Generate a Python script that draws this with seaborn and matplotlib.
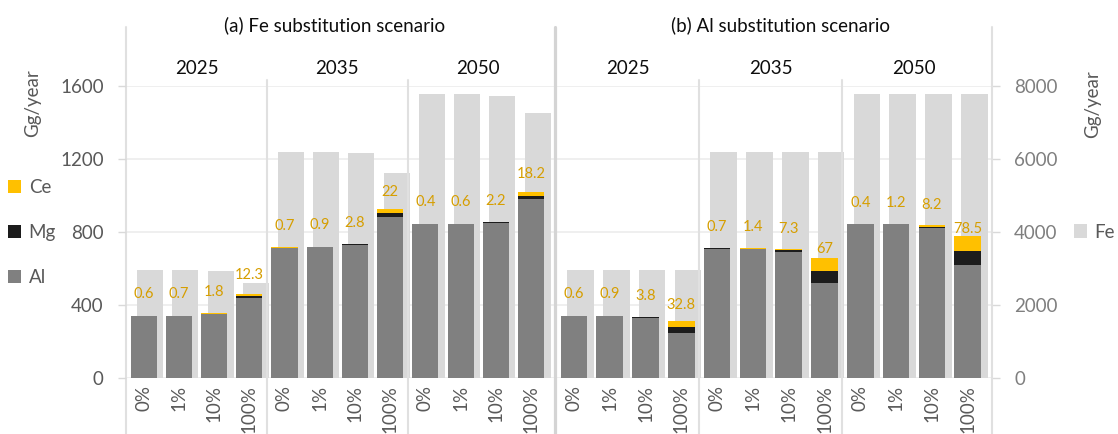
import numpy as np
import pandas as pd
import matplotlib
matplotlib.use("Agg")
import matplotlib.pyplot as plt
import matplotlib.transforms as mtransforms
from matplotlib.patches import Patch
import seaborn as sns

# ---------------------------------------------------------------- data
years = ["2025", "2035", "2050"]
shares = ["0%", "1%", "10%", "100%"]

# (a) Fe substitution scenario  (Gg/year)
al_a = [340, 341, 350, 437, 714, 718, 730, 880, 844, 844, 851, 981]
mg_a = [0.6, 0.7, 1.8, 10, 0.7, 0.9, 2.8, 22, 0.4, 0.6, 2.2, 19]
ce_a = [0.6, 0.7, 1.8, 12.3, 0.7, 0.9, 2.8, 22, 0.4, 0.6, 2.2, 18.2]
fe_a = [2960, 2960, 2930, 2610, 6200, 6200, 6175, 5610, 7770, 7770, 7730, 7270]

# (b) Al substitution scenario  (Gg/year)
al_b = [340, 340, 328, 248, 709, 708, 693, 522, 843, 842, 820, 617]
mg_b = [0.6, 0.9, 4, 33, 0.7, 1.4, 7.5, 66, 0.4, 1.2, 8.5, 80]
ce_b = [0.6, 0.9, 3.8, 32.8, 0.7, 1.4, 7.3, 67, 0.4, 1.2, 8.2, 78.5]
fe_b = [2960, 2960, 2960, 2960, 6200, 6200, 6200, 6200, 7780, 7780, 7780, 7780]

left_ticks = [0, 400, 800, 1200, 1600]
right_ticks = [0, 2000, 4000, 6000, 8000]

# ---------------------------------------------------------------- style
AL_COLOR = "#808080"
MG_COLOR = "#1c1c1c"
CE_COLOR = "#ffc000"
FE_COLOR = "#d9d9d9"
LABEL_COLOR = "#d69e00"
GRID_COLOR = "#eeeeee"
LINE_COLOR = "#e0e0e0"
TXT = "#595959"

BAR_W = 0.74
FE_SHIFT = 0.185
XMAX = 11.68

sns.set_theme(style="white")
plt.rcParams["font.family"] = ["Lato", "DejaVu Sans"]
FS = 13.5

W, H = 1118, 434
fig = plt.figure(figsize=(W / 100, H / 100), dpi=100)


def px_box(x0, x1, ytop, ybot):
    return [x0 / W, 1 - ybot / H, (x1 - x0) / W, (ybot - ytop) / H]


ax_a = fig.add_axes(px_box(126, 555, 86, 378))
ax_b = fig.add_axes(px_box(556, 992, 86, 378))

# axes-fraction heights of the frame lines (figure top band down to the bottom edge)
Y_BOTTOM = (378 - 434) / 292
Y_TOP = (378 - 27) / 292
Y_SEP_TOP = (378 - 80) / 292
Y_YEAR = (378 - 68) / 292
Y_TITLE = (378 - 25) / 292


def draw_panel(ax, al, mg, ce, fe, title, title_x, left_axis, right_axis):
    n = len(al)
    df = pd.DataFrame({"slot": np.arange(n, dtype=float), "Al": al, "Mg": mg,
                       "Ce": ce, "Fe": fe})
    df["fe_slot"] = df["slot"] + FE_SHIFT
    df["al_mg"] = df["Al"] + df["Mg"]
    df["total"] = df["al_mg"] + df["Ce"]

    # Fe on the secondary scale, drawn behind the stacked columns
    ax_fe = ax.twinx()
    sns.barplot(data=df, x="fe_slot", y="Fe", native_scale=True, width=BAR_W,
                color=FE_COLOR, saturation=1, linewidth=0, errorbar=None, ax=ax_fe)

    # stacked Al / Mg / Ce: draw cumulative totals from the top layer down
    for col, colr in [("total", CE_COLOR), ("al_mg", MG_COLOR), ("Al", AL_COLOR)]:
        sns.barplot(data=df, x="slot", y=col, native_scale=True, width=BAR_W,
                    color=colr, saturation=1, linewidth=0, errorbar=None, ax=ax)

    ax.set_zorder(ax_fe.get_zorder() + 1)
    ax.patch.set_visible(False)
    ax_fe.patch.set_visible(False)

    ax.set_ylim(0, 1600)
    ax_fe.set_ylim(0, 8000)
    ax.set_xlim(-0.5, XMAX)
    ax.set_xlabel("")
    ax.set_ylabel("")
    ax_fe.set_xlabel("")
    ax_fe.set_ylabel("")
    for sp in list(ax.spines.values()) + list(ax_fe.spines.values()):
        sp.set_visible(False)

    # horizontal gridlines on the back axes
    ax_fe.set_yticks(right_ticks)
    ax_fe.set_axisbelow(True)
    ax_fe.yaxis.grid(True, color=GRID_COLOR, lw=1.3)
    ax.grid(False)

    ax.set_xticks(df["slot"])
    ax.set_xticklabels(shares * len(years), rotation=90, color=TXT, fontsize=FS)
    ax.tick_params(axis="x", length=0, pad=5)

    ax.set_yticks(left_ticks)
    if left_axis:
        ax.tick_params(axis="y", left=True, length=6, width=1, color="#d9d9d9",
                       labelcolor=TXT, labelsize=FS, pad=10)
    else:
        ax.tick_params(axis="y", left=False, labelleft=False)

    if right_axis:
        ax_fe.tick_params(axis="y", right=True, length=6, width=1, color="#d9d9d9",
                          labelcolor="#7f7f7f", labelsize=FS, pad=10)
    else:
        ax_fe.tick_params(axis="y", right=False, labelright=False)

    # Ce amount written above each column
    for i, row in df.iterrows():
        ax.annotate(f"{row['Ce']:g}", xy=(row["slot"], row["al_mg"]),
                    xytext=(0, 15.5), textcoords="offset points",
                    ha="center", va="center", color=LABEL_COLOR, fontsize=10.5,
                    annotation_clip=False)

    blend = mtransforms.blended_transform_factory(ax.transData, ax.transAxes)
    # year group separators and year headings
    for g, yr in enumerate(years):
        ax.text(g * 4 + 1.5, Y_YEAR, yr, transform=blend, ha="center", va="center",
                fontsize=FS, color="#0d0d0d")
        if g > 0:
            ax.plot([g * 4 - 0.5] * 2, [Y_BOTTOM, Y_SEP_TOP], transform=blend,
                    color=LINE_COLOR, lw=1.5, clip_on=False, zorder=0)

    ax.text(title_x, Y_TITLE, title, transform=ax.transAxes, ha="center",
            va="center", fontsize=FS, color="#0d0d0d")
    return ax_fe


draw_panel(ax_a, al_a, mg_a, ce_a, fe_a, "(a) Fe substitution scenario", 0.485, True, False)
draw_panel(ax_b, al_b, mg_b, ce_b, fe_b, "(b) Al substitution scenario", 0.514, False, True)

# frame lines: outer left/right axes and the panel divider
ax_a.plot([0, 0], [Y_BOTTOM, Y_TOP], transform=ax_a.transAxes, color=LINE_COLOR,
          lw=1.5, clip_on=False, zorder=0)
ax_a.plot([1, 1], [Y_BOTTOM, Y_TOP], transform=ax_a.transAxes, color="#d4d4d4",
          lw=2.3, clip_on=False, zorder=0)
ax_b.plot([1, 1], [Y_BOTTOM, Y_TOP], transform=ax_b.transAxes, color=LINE_COLOR,
          lw=1.5, clip_on=False, zorder=0)

# axis titles
fig.text(33 / W, 1 - 103 / H, "Gg/year", rotation=90, ha="center", va="center",
         fontsize=FS, color=TXT)
fig.text(1093 / W, 1 - 104 / H, "Gg/year", rotation=90, ha="center", va="center",
         fontsize=FS, color=TXT)

# legends
left_handles = [Patch(facecolor=CE_COLOR, edgecolor="none", label="Ce"),
                Patch(facecolor=MG_COLOR, edgecolor="none", label="Mg"),
                Patch(facecolor=AL_COLOR, edgecolor="none", label="Al")]
leg = fig.legend(handles=left_handles, loc="upper left",
                 bbox_to_anchor=(8 / W, 1 - 179 / H), frameon=False,
                 handlelength=0.7, handleheight=0.7, handletextpad=0.4,
                 labelspacing=1.5, borderpad=0, borderaxespad=0, fontsize=FS)
for t in leg.get_texts():
    t.set_color(TXT)

leg2 = fig.legend(handles=[Patch(facecolor=FE_COLOR, edgecolor="none", label="Fe")],
                  loc="center left", bbox_to_anchor=(1074 / W, 1 - 232 / H),
                  frameon=False, handlelength=0.7, handleheight=0.7,
                  handletextpad=0.4, borderpad=0, borderaxespad=0, fontsize=FS)
for t in leg2.get_texts():
    t.set_color(TXT)

fig.savefig("out.png", dpi=100)
